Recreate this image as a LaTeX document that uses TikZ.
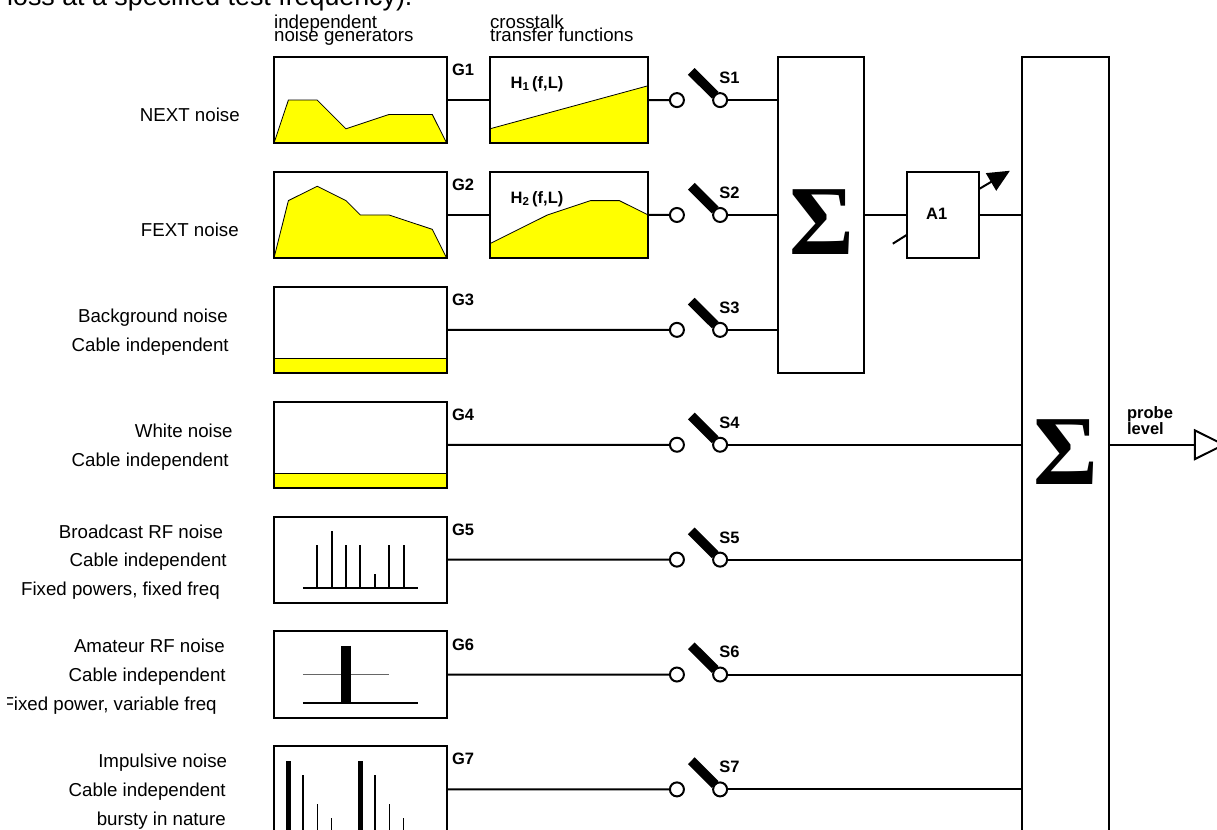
\documentclass[tikz,border=0pt]{standalone}
\usepackage{fontspec}
\setmainfont{Liberation Sans}
\newfontfamily\sumfont{Liberation Serif}
\usetikzlibrary{arrows.meta}
\definecolor{specyellow}{RGB}{255,255,0}
\tikzset{
	genbox/.style={draw, line width=2pt, anchor=north west, inner sep=0pt, outer sep=0pt, minimum width=172.7pt, minimum height=86.2pt},
	tfbox/.style={genbox, minimum width=158.3pt},
	sumbox/.style={draw, line width=2pt, inner sep=0pt, outer sep=0pt, minimum width=86.3pt},
	hole/.style={draw, circle, fill=white, line width=2pt, inner sep=0pt, outer sep=0pt, minimum size=14pt},
	wire/.style={line width=2pt},
	blade/.style={line width=9.5pt},
	spec/.style={draw=black, line width=0.8pt, fill=specyellow},
	lbl/.style={font=\fontsize{18.7}{20}\selectfont, inner sep=0pt, anchor=base east},
	headline/.style={font=\fontsize{18.7}{20}\selectfont, inner sep=0pt, anchor=base west},
	tag/.style={font=\fontsize{16.5}{15}\selectfont\bfseries, inner sep=0pt},
	bigsum/.style={font=\sumfont\bfseries\fontsize{99}{99}\selectfont, inner sep=0pt}
}
\begin{document}
\begin{tikzpicture}[x=14.39pt, y=14.36pt]
	\clip (-19.04,3.97) rectangle (65.53,-53.76);
	\node[font=\fontsize{26.8}{30}\selectfont, inner sep=0pt, anchor=base west] (intro) at (-18.55,3.62) {loss at a specified test frequency).};
	\node[headline] (headGa) at (0,2) {independent};
	\node[headline] (headGb) at (0,1.07) {noise generators};
	\node[headline] (headHa) at (15,2) {crosstalk};
	\node[headline] (headHb) at (15,1.07) {transfer functions};
	% spectra go under the boxes
	\draw[spec] (0,-6) -- (1,-3) -- (3,-3) -- (5,-5) -- (8,-4) -- (11,-4) -- (12,-6) -- cycle;
	\draw[spec] (0,-14) -- (1,-10) -- (3,-9) -- (5,-10) -- (6,-11) -- (8,-11) -- (11,-12) -- (12,-14) -- cycle;
	\draw[spec] (15,-6) -- (15,-5) -- (26,-2) -- (26,-6) -- cycle;
	\draw[spec] (15,-14) -- (15,-13) -- (19,-11) -- (22,-10) -- (24,-10) -- (26,-11) -- (26,-14) -- cycle;
	\draw[spec] (0,-21) rectangle (12,-22);
	\draw[spec] (0,-29) rectangle (12,-30);
	\draw[wire] (2,-37) -- (10,-37);
	\foreach \xx/\yy in {3/-34,4/-33,5/-34,6/-34,7/-36,8/-34,9/-34} {
		\draw[wire] (\xx,-37) -- (\xx,\yy);
	}
	\draw[line width=1.2pt, black!60] (2,-43) -- (8,-43);
	\draw[line width=10pt] (5,-41) -- (5,-45);
	\draw[wire] (2,-45) -- (10,-45);
	\foreach \xx/\yy/\ww in {1/-49/4.7,6/-49/4.7,2/-50/2.2,7/-50/2.2,3/-52/1,8/-52/1,4/-53/1,9/-53/1} {
		\draw[line width=\ww pt] (\xx,-54) -- (\xx,\yy);
	}
	\node[tfbox] (H1) at (15,0) {};
	\node[tfbox] (H2) at (15,-8) {};
	\node[tag, anchor=west] (Hl1) at (16.43,-1.88) {H\textsubscript{1}\,(f,L)};
	\node[tag, anchor=west] (Hl2) at (16.43,-9.88) {H\textsubscript{2}\,(f,L)};
	\node[sumbox, minimum height=315.9pt] (Sum1) at (38,-11) {};
	\node[sumbox, minimum height=861.6pt] (Sum2) at (55,-30) {};
	\node[bigsum] (Sig1) at (38.05,-11.5) {Σ};
	\node[bigsum] (Sig2) at (55.03,-27.5) {Σ};
	\foreach \i in {1,...,7} {
		\pgfmathsetmacro{\t}{-8*(\i-1)}
		\node[genbox] (G\i) at (0,\t) {};
		\node[tag, anchor=west] (Gl\i) at (12.36,{\t-0.9}) {G\i};
		\node[hole] (Sa\i) at (28,{\t-3}) {};
		\node[hole] (Sb\i) at (31,{\t-3}) {};
		\coordinate (St\i) at (29,{\t-1});
		\draw[blade] (Sb\i) -- (St\i);
		\node[tag] (Sl\i) at (31.65,{\t-1.45}) {S\i};
	}
	\draw[wire] (G1) -- (H1);
	\draw[wire] (G2) -- (H2);
	\draw[wire] (H1) -- (Sa1);
	\draw[wire] (H2) -- (Sa2);
	\foreach \i in {3,...,7} {
		\draw[wire] (G\i) -- (Sa\i);
	}
	\foreach \i in {1,2,3} {
		\draw[wire] (Sb\i) -- (Sb\i -| Sum1.west);
	}
	\foreach \i in {4,...,7} {
		\draw[wire] (Sb\i) -- (Sb\i -| Sum2.west);
	}
	\node[draw, line width=2pt, inner sep=0pt, outer sep=0pt, minimum width=72pt, minimum height=86.2pt] (A1) at (46.5,-11) {};
	\node[tag] (Al1) at (46.05,-10.9) {A1};
	\draw[wire] (Sum1) -- (A1);
	\draw[wire] (A1) -- (A1 -| Sum2.west);
	\coordinate (SlashA) at (43,-13);
	\coordinate (SlashB) at (44,-12.37);
	\coordinate (GainA) at (49,-9.19);
	\coordinate (GainB) at (51.14,-7.92);
	\draw[wire] (SlashA) -- (SlashB);
	\draw[wire, -{Triangle[length=22pt, width=20pt]}] (GainA) -- (GainB);
	\coordinate (Out) at (64,-27);
	\draw[wire] (Out -| Sum2.east) -- (Out);
	\draw[wire] (64,-26) -- (64,-28) -- (66,-27) -- cycle;
	\node[tag, anchor=south west, align=left] (Probe) at (59.27,-26.32) {probe\\level};
	\foreach \xx/\yy/\txt [count=\n] in {
		-2.37/-4.5/NEXT noise,
		-2.44/-12.5/FEXT noise,
		-3.2/-18.5/Background noise,
		-3.13/-20.5/Cable independent,
		-2.86/-26.5/White noise,
		-3.13/-28.5/Cable independent,
		-3.52/-33.5/Broadcast RF noise,
		-3.27/-35.5/Cable independent,
		-3.76/-37.5/{Fixed powers, fixed freq},
		-3.41/-41.5/Amateur RF noise,
		-3.34/-43.5/Cable independent,
		-3.97/-45.5/{Fixed power, variable freq},
		-3.24/-49.5/Impulsive noise,
		-3.34/-51.5/Cable independent,
		-3.34/-53.5/bursty in nature} {
		\node[lbl] (Name\n) at (\xx,\yy) {\txt};
	}
	\fill[white] (-19.04,-44.5) rectangle (-18.55,-45.7);
\end{tikzpicture}
\end{document}
